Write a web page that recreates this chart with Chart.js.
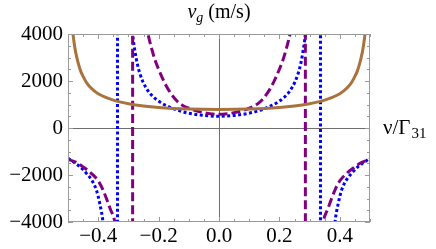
<!DOCTYPE html>
<html>
<head>
<meta charset="utf-8">
<script src="https://cdn.jsdelivr.net/npm/chart.js@4/dist/chart.umd.min.js"></script>
<style>
  html, body { margin: 0; padding: 0; background: #fff; }
  #wrap { width: 436px; height: 249px; }
</style>
</head>
<body>
<div id="wrap"><canvas id="vgChart" width="436" height="249"></canvas></div>
<script>
// tick labels
const xTickValues = [-0.4, -0.2, 0, 0.2, 0.4];
const xTickLabels = ["\u22120.4", "\u22120.2", "0.0", "0.2", "0.4"];
const yTickValues = [-4000, -2000, 0, 2000, 4000];
const yTickLabels = ["\u22124000", "\u22122000", "0", "2000", "4000"];

// brown solid curve
const brownX = [-0.49, -0.485, -0.48, -0.475, -0.467, -0.458, -0.45, -0.44, -0.43, -0.415, -0.4, -0.375,
  -0.35, -0.325, -0.3, -0.25, -0.2, -0.1, 0,
  0.1, 0.2, 0.25, 0.3, 0.325, 0.35, 0.375, 0.4, 0.415, 0.43, 0.44, 0.45, 0.458, 0.467, 0.475, 0.48,
  0.485, 0.49];
const brownY = [5200, 4200, 3650, 3250, 2800, 2420, 2200, 1960, 1790, 1600, 1460, 1300,
  1185, 1100, 1035, 940, 877, 810, 790,
  810, 877, 940, 1035, 1100, 1185, 1300, 1460, 1600, 1790, 1960, 2200, 2420, 2800, 3250, 3650,
  4200, 5200];

// purple dashed curve (pole near +-0.286)
const purpleX = [-0.5, -0.485, -0.467, -0.445, -0.423, -0.4, -0.384, -0.36, -0.345, -0.33, -0.3, -0.286,
  -0.286, -0.265, -0.25, -0.237, -0.23, -0.222, -0.212, -0.2, -0.19, -0.175, -0.16, -0.14, -0.12, -0.1,
  -0.075, -0.05, -0.03, 0, 0.03, 0.05, 0.075, 0.1, 0.12, 0.14, 0.16, 0.175, 0.19, 0.2, 0.212, 0.222,
  0.23, 0.237, 0.25, 0.265, 0.286,
  0.286, 0.3, 0.33, 0.345, 0.36, 0.384, 0.4, 0.423, 0.445, 0.467, 0.485, 0.5];
const purpleY = [-1330, -1400, -1500, -1700, -1930, -2250, -2640, -3450, -4000, -5500, -12000, -30000,
  30000, 7000, 5000, 4100, 3720, 3330, 2900, 2500, 2200, 1800, 1480, 1160, 960, 840,
  730, 655, 612, 580, 612, 655, 730, 840, 960, 1160, 1480, 1800, 2200, 2500, 2900, 3330,
  3720, 4100, 5000, 7000, 30000,
  -30000, -12000, -5500, -4000, -3450, -2640, -2250, -1930, -1700, -1500, -1400, -1330];

// blue dotted curve (pole near +-0.336)
const blueX = [-0.5, -0.478, -0.46, -0.439, -0.42, -0.406, -0.395, -0.384, -0.375, -0.36, -0.336,
  -0.336, -0.3, -0.286, -0.278, -0.27, -0.262, -0.253, -0.235, -0.218, -0.19, -0.162, -0.13, -0.096,
  -0.05, 0, 0.05, 0.096, 0.13, 0.162, 0.19, 0.218, 0.235, 0.253, 0.262, 0.27, 0.278, 0.286, 0.3, 0.336,
  0.336, 0.36, 0.375, 0.384, 0.395, 0.406, 0.42, 0.439, 0.46, 0.478, 0.5];
const blueY = [-1290, -1480, -1650, -1930, -2250, -2640, -3200, -4000, -5200, -8000, -30000,
  30000, 6500, 4000, 3250, 2700, 2320, 2000, 1580, 1330, 1060, 880, 730, 620,
  535, 500, 535, 620, 730, 880, 1060, 1330, 1580, 2000, 2320, 2700, 3250, 4000, 6500, 30000,
  -30000, -8000, -5200, -4000, -3200, -2640, -2250, -1930, -1650, -1480, -1290];

const toPoints = (xs, ys) => xs.map((x, i) => ({ x: x, y: ys[i] }));

const serif = "'Liberation Serif', 'DejaVu Serif', serif";

const framePlugin = {
  id: "frame",
  beforeDatasetsDraw(chart) {
    const { ctx, chartArea: a, scales } = chart;
    const sx = scales.x, sy = scales.y;
    ctx.save();
    // axes through the origin
    ctx.strokeStyle = "#6e6e6e";
    ctx.lineWidth = 1;
    ctx.beginPath();
    const x0 = Math.round(sx.getPixelForValue(0)) + 0.5;
    const y0 = Math.round(sy.getPixelForValue(0)) + 0.5;
    ctx.moveTo(x0, a.top); ctx.lineTo(x0, a.bottom);
    ctx.moveTo(a.left, y0); ctx.lineTo(a.right, y0);
    ctx.stroke();
    // ticks inside the frame
    ctx.strokeStyle = "#9a9a9a";
    ctx.beginPath();
    for (let i = -10; i <= 10; i++) {
      const px = Math.round(sx.getPixelForValue(i * 0.05)) + 0.5;
      const len = i % 4 === 0 ? 5 : 3;
      ctx.moveTo(px, a.bottom); ctx.lineTo(px, a.bottom - len);
      ctx.moveTo(px, a.top); ctx.lineTo(px, a.top + len);
    }
    for (let i = -8; i <= 8; i++) {
      const py = Math.round(sy.getPixelForValue(i * 500)) + 0.5;
      const len = i % 4 === 0 ? 5 : 3;
      ctx.moveTo(a.left, py); ctx.lineTo(a.left + len, py);
      ctx.moveTo(a.right, py); ctx.lineTo(a.right - len, py);
    }
    ctx.stroke();
    ctx.restore();
  },
  afterDatasetsDraw(chart) {
    const { ctx, chartArea: a } = chart;
    ctx.save();
    ctx.strokeStyle = "#9a9a9a";
    ctx.lineWidth = 1;
    ctx.strokeRect(Math.round(a.left) + 0.5, Math.round(a.top) + 0.5,
      Math.round(a.right - a.left) - 1, Math.round(a.bottom - a.top) - 1);
    ctx.restore();
  },
  afterDraw(chart) {
    const { ctx } = chart;
    ctx.save();
    ctx.fillStyle = "#000";
    ctx.textBaseline = "alphabetic";
    // title v_g (m/s)
    ctx.font = "italic 20px " + serif;
    const w1 = ctx.measureText("v").width;
    ctx.font = "italic 14px " + serif;
    const w2 = ctx.measureText("g").width;
    ctx.font = "20px " + serif;
    const w3 = ctx.measureText(" (m/s)").width;
    let x = 219 - (w1 + w2 + w3) / 2;
    ctx.font = "italic 20px " + serif;
    ctx.fillText("v", x, 18);
    x += w1;
    ctx.font = "italic 14px " + serif;
    ctx.fillText("g", x, 22);
    x += w2;
    ctx.font = "20px " + serif;
    ctx.fillText(" (m/s)", x, 18);
    // axis label nu / Gamma_31
    ctx.font = "21px " + serif;
    ctx.fillText("\u03bd/\u0393", 383, 134);
    const w4 = ctx.measureText("\u03bd/\u0393").width;
    ctx.font = "15px " + serif;
    ctx.fillText("31", 383 + w4 + 1, 138);
    ctx.restore();
  },
};

const line = (data, color, dash) => ({
  data: data,
  showLine: true,
  borderColor: color,
  borderWidth: 3,
  borderDash: dash,
  pointRadius: 0,
  cubicInterpolationMode: "monotone",
  fill: false,
  clip: 0,
});

new Chart(document.getElementById("vgChart").getContext("2d"), {
  type: "scatter",
  data: {
    datasets: [
      line(toPoints(brownX, brownY), "#a8733c", []),
      line(toPoints(purpleX, purpleY), "#800080", [9, 4]),
      line(toPoints(blueX, blueY), "#0000ff", [3, 2.5]),
    ],
  },
  options: {
    responsive: false,
    animation: false,
    layout: { padding: { top: 34, right: 66, left: 0, bottom: 0 } },
    plugins: { legend: { display: false }, tooltip: { enabled: false } },
    scales: {
      x: {
        type: "linear",
        min: -0.5,
        max: 0.5,
        grid: { display: false, drawTicks: false },
        border: { display: false },
        afterBuildTicks: (s) => { s.ticks = xTickValues.map((v) => ({ value: v })); },
        afterFit: (s) => { s.height = 27; },
        ticks: {
          padding: 2,
          maxRotation: 0,
          autoSkip: false,
          color: "#000",
          font: { family: serif, size: 21 },
          callback: (v) => xTickLabels[xTickValues.indexOf(v)],
        },
      },
      y: {
        type: "linear",
        min: -4000,
        max: 4000,
        grid: { display: false, drawTicks: false },
        border: { display: false },
        afterBuildTicks: (s) => { s.ticks = yTickValues.map((v) => ({ value: v })); },
        afterFit: (s) => { s.width = 68; },
        ticks: {
          padding: 5,
          autoSkip: false,
          color: "#000",
          font: { family: serif, size: 21 },
          callback: (v) => yTickLabels[yTickValues.indexOf(v)],
        },
      },
    },
  },
  plugins: [framePlugin],
});
</script>
</body>
</html>
